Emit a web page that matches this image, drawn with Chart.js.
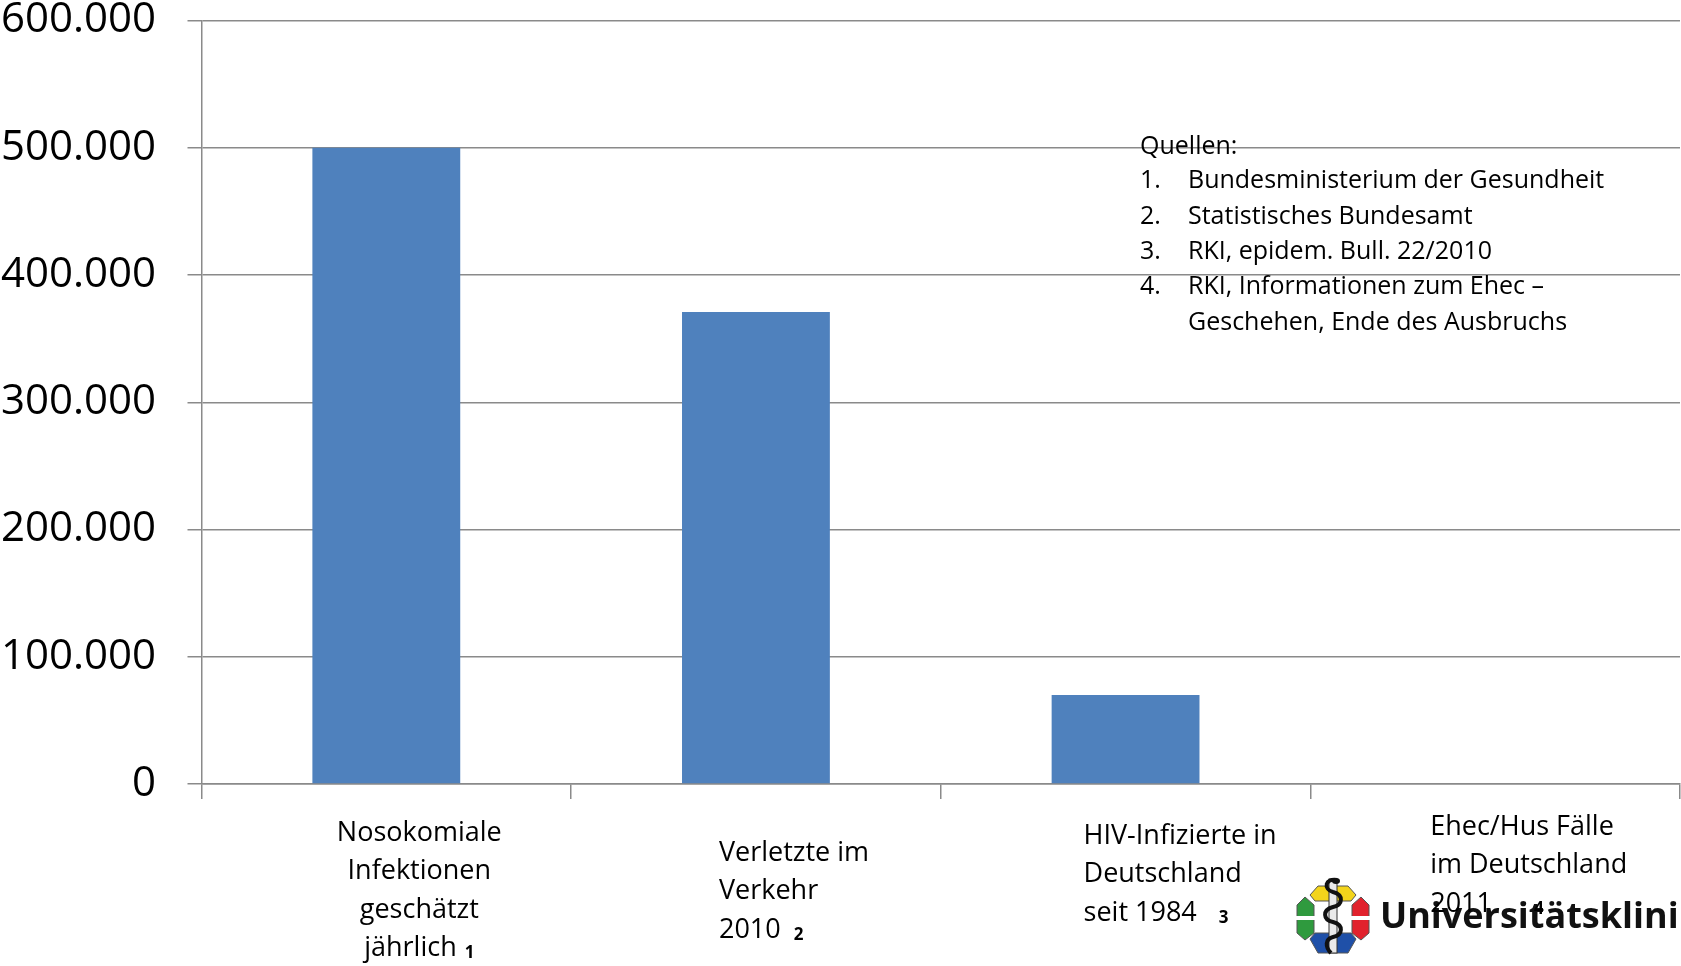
<!DOCTYPE html>
<html>
<head>
<meta charset="utf-8">
<script src="https://cdn.jsdelivr.net/npm/chart.js@4/dist/chart.umd.min.js"></script>
<style>
  html, body { margin: 0; padding: 0; background: #fff; }
  #wrap { width: 1681px; height: 966px; position: relative; }
</style>
</head>
<body>
<div id="wrap"><canvas id="grafico"></canvas></div>
<script>
// Kategorien (zeilenweise) und Fußnotennummern
const kategorien = [
    ['Nosokomiale', 'Infektionen', 'geschätzt', 'jährlich'],
    ['Verletzte im', 'Verkehr', '2010'],
    ['HIV-Infizierte in', 'Deutschland', 'seit 1984'],
    ['Ehec/Hus Fälle', 'im Deutschland', '2011']
];
const fussnoten = ['1', '2', '3', '4'];

// Fallzahlen
const faelle = [500000, 371000, 70000, 0];

// Achsenbereich
const yMin = 0;
const yMax = 600000;
const yStep = 100000;

const quellen = [
    'Bundesministerium der Gesundheit',
    'Statistisches Bundesamt',
    'RKI, epidem. Bull. 22/2010',
    'RKI, Informationen zum Ehec –\nGeschehen, Ende des Ausbruchs'
];

const SCHRIFT = '"Open Sans", "Noto Sans", sans-serif';
const GRAU = '#8a8a8a';

// Lage der Beschriftungen unter den Balken (relativ zur Kategoriemitte / Achse)
const labelLayout = [
    { dx: 33, dy: 49, align: 'center', gap: 8 },
    { dx: -37, dy: 69, align: 'left', gap: 13 },
    { dx: -42, dy: 52, align: 'left', gap: 22 },
    { dx: -65, dy: 43, align: 'left', gap: 42 }
];

function tausender(v) {
    return String(v).replace(/\B(?=(\d{3})+(?!\d))/g, '.');
}

// Logo der Uniklinik: Ring aus vier Farbsegmenten mit Äskulapstab
function zeichneLogo(ctx, x0, y0) {
    ctx.save();
    ctx.translate(x0, y0);
    ctx.lineWidth = 1;
    ctx.strokeStyle = '#555';
    const poly = (pts, farbe) => {
        ctx.beginPath();
        ctx.moveTo(pts[0][0], pts[0][1]);
        for (let i = 1; i < pts.length; i++) ctx.lineTo(pts[i][0], pts[i][1]);
        ctx.closePath();
        ctx.fillStyle = farbe;
        ctx.fill();
        ctx.stroke();
    };
    // oben gelb
    poly([[13, 18], [21, 9], [51, 9], [59, 18], [54, 24], [18, 24]], '#F3D41B');
    // unten blau
    poly([[13, 62], [18, 56], [54, 56], [59, 62], [51, 76], [21, 76]], '#1F50A8');
    // links grün
    poly([[0, 28], [8, 20], [17, 28], [17, 56], [8, 63], [0, 56]], '#2F9A3E');
    // rechts rot
    poly([[55, 28], [64, 20], [72, 28], [72, 56], [64, 63], [55, 56]], '#E1222D');
    // weiße Querstreifen
    ctx.fillStyle = '#fff';
    ctx.fillRect(-1, 39, 19, 4);
    ctx.fillRect(54, 39, 19, 4);
    // Stab
    ctx.fillStyle = '#eaeaea';
    ctx.fillRect(32, 2, 8, 74);
    ctx.strokeStyle = '#333';
    ctx.strokeRect(32, 2, 8, 74);
    // Schlange
    ctx.beginPath();
    ctx.moveTo(40, 3);
    ctx.bezierCurveTo(28, 1, 26, 12, 36, 15);
    ctx.bezierCurveTo(47, 18, 46, 28, 36, 30);
    ctx.bezierCurveTo(25, 33, 26, 43, 36, 45);
    ctx.bezierCurveTo(47, 48, 46, 58, 36, 60);
    ctx.bezierCurveTo(28, 62, 28, 70, 34, 76);
    ctx.lineWidth = 4;
    ctx.strokeStyle = '#111';
    ctx.stroke();
    ctx.beginPath();
    ctx.ellipse(39, 4, 4, 3, 0, 0, Math.PI * 2);
    ctx.fillStyle = '#111';
    ctx.fill();
    ctx.restore();

    ctx.save();
    ctx.font = 'bold 36px ' + SCHRIFT;
    ctx.fillStyle = '#111';
    ctx.textBaseline = 'alphabetic';
    ctx.textAlign = 'left';
    ctx.fillText('Universitätsklinik', x0 + 83, y0 + 51);
    ctx.restore();
}

const beschriftung = {
    id: 'beschriftung',
    afterDraw(chart) {
        const ctx = chart.ctx;
        const xs = chart.scales.x;
        const bottom = chart.chartArea.bottom;

        zeichneLogo(ctx, 1297, 877);

        // Quellenangaben
        ctx.save();
        ctx.fillStyle = '#000';
        ctx.font = '25px ' + SCHRIFT;
        ctx.textBaseline = 'middle';
        ctx.textAlign = 'left';
        ctx.fillText('Quellen:', 1140, 147);
        let y = 181;
        quellen.forEach((q, i) => {
            ctx.fillText((i + 1) + '.', 1140, y);
            q.split('\n').forEach(zeile => {
                ctx.fillText(zeile, 1188, y);
                y += 35.4;
            });
        });
        ctx.restore();

        // Kategorien mit tiefgestellten Fußnoten
        ctx.save();
        ctx.fillStyle = '#000';
        ctx.textBaseline = 'middle';
        kategorien.forEach((zeilen, i) => {
            const lay = labelLayout[i];
            const x = xs.getPixelForValue(i) + lay.dx;
            zeilen.forEach((zeile, j) => {
                const yy = bottom + lay.dy + j * 38.5;
                ctx.font = '27px ' + SCHRIFT;
                const w = ctx.measureText(zeile).width;
                const letzte = j === zeilen.length - 1;
                ctx.font = 'bold 17px ' + SCHRIFT;
                const fw = letzte ? lay.gap + ctx.measureText(fussnoten[i]).width : 0;
                const start = lay.align === 'center' ? x - (w + fw) / 2 : x;
                ctx.font = '27px ' + SCHRIFT;
                ctx.textAlign = 'left';
                ctx.fillText(zeile, start, yy);
                if (letzte) {
                    ctx.font = 'bold 17px ' + SCHRIFT;
                    ctx.fillText(fussnoten[i], start + w + lay.gap, yy + 5);
                }
            });
        });
        ctx.restore();
    }
};

document.addEventListener('DOMContentLoaded', function () {
    const ctx = document.getElementById('grafico').getContext('2d');
    new Chart(ctx, {
        type: 'bar',
        data: {
            labels: kategorien,
            datasets: [{
                data: faelle,
                backgroundColor: '#4F81BD',
                borderWidth: 0,
                barPercentage: 0.4,
                categoryPercentage: 1.0
            }]
        },
        options: {
            responsive: true,
            maintainAspectRatio: false,
            animation: false,
            layout: { padding: { top: 20.5, right: 1, left: 0, bottom: 0 } },
            plugins: {
                legend: { display: false },
                tooltip: { enabled: false }
            },
            scales: {
                x: {
                    grid: {
                        offset: true,
                        drawOnChartArea: false,
                        drawTicks: true,
                        tickLength: 15,
                        color: GRAU,
                        lineWidth: 1.5
                    },
                    border: { display: true, color: GRAU, width: 1.5 },
                    ticks: { display: false },
                    afterFit(scale) {
                        scale.height = 182;
                        scale.paddingLeft = 0;
                        scale.paddingRight = 0;
                    }
                },
                y: {
                    min: yMin,
                    max: yMax,
                    grid: {
                        color: GRAU,
                        lineWidth: 1.5,
                        tickLength: 14
                    },
                    border: { display: true, color: GRAU, width: 1.5 },
                    ticks: {
                        stepSize: yStep,
                        padding: 31.5,
                        color: '#000',
                        font: { family: SCHRIFT, size: 42, lineHeight: 1.1 },
                        callback: v => tausender(v)
                    },
                    afterFit(scale) {
                        scale.width = 201.5;
                        scale.paddingTop = 0;
                        scale.paddingBottom = 0;
                    }
                }
            }
        },
        plugins: [beschriftung]
    });
});
</script>
</body>
</html>
